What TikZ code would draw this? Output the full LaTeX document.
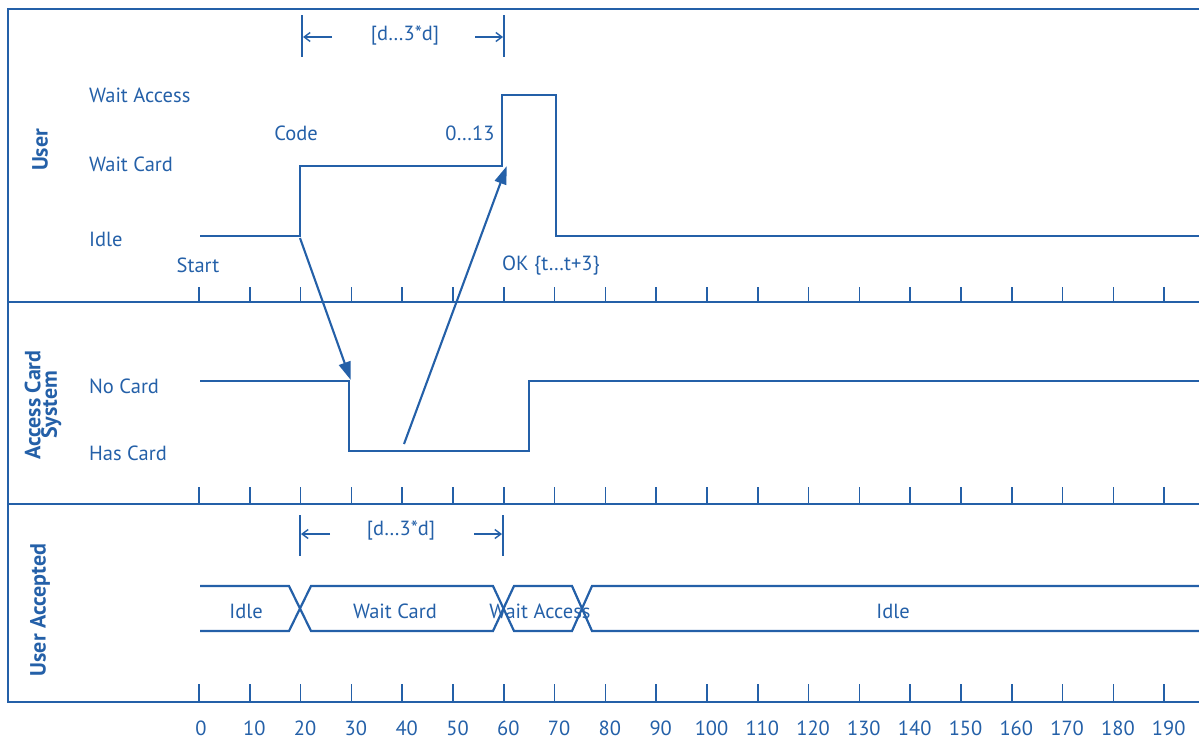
\documentclass[tikz,border=0pt]{standalone}
\usepackage{fontspec}
\setmainfont{PT Sans}
\usetikzlibrary{arrows.meta}
\definecolor{ub}{RGB}{36,96,168}
\begin{document}
\begin{tikzpicture}[x=1pt,y=-1pt,
  frame/.style={draw=ub, line width=1.9pt},
  sig/.style={draw=ub, line width=2.2pt, line join=miter},
  tickmark/.style={draw=ub, line width=1.6pt},
  lbl/.style={text=ub, font=\fontsize{20.5}{23}\selectfont, inner sep=0pt},
  numlbl/.style={lbl, text height=14pt, text depth=0pt},
  ttl/.style={text=ub, font=\bfseries\fontsize{22}{16.5}\selectfont, rotate=90, align=center, inner sep=0pt},
  msg/.style={draw=ub, line width=2.1pt, -{Triangle[length=18pt,width=12pt]}, shorten >=-2pt},
  dimarrow/.style={draw=ub, line width=1.4pt, -{Straight Barb[length=6pt,width=9pt]}},
  dimbar/.style={draw=ub, line width=1.5pt}]
\useasboundingbox (0,0) rectangle (1199,739);
% frame
\draw[frame] (1199,9) -- (8,9) -- (8,702) -- (1199,702);
\draw[frame] (8,302) -- (1199,302);
\draw[frame] (8,504) -- (1199,504);
% ticks
\foreach \t in {0,...,19} {
  \draw[tickmark] ({199+50.8*\t},287) -- ({199+50.8*\t},302);
  \draw[tickmark] ({199+50.8*\t},487) -- ({199+50.8*\t},504);
  \draw[tickmark] ({199+50.8*\t},684) -- ({199+50.8*\t},702);
}
\node[numlbl] (tl0) at (201,728) {0};
\foreach \t in {1,...,19} {
  \pgfmathtruncatemacro{\v}{10*\t}
  \node[numlbl] (tl\t) at ({203.5+50.8*\t},728) {\v};
}
% lane titles
\node[ttl] (tUser) at (40,150) {User};
\node[ttl] (tACS) at (43,405) {Access Card\\System};
\node[ttl] (tUA) at (40,610) {User Accepted};
% state labels
\node[lbl, anchor=west] (sWA) at (89,95) {Wait Access};
\node[lbl, anchor=west] (sWC) at (89,164) {Wait Card};
\node[lbl, anchor=west] (sI) at (89,239) {Idle};
\node[lbl, anchor=west] (sNC) at (89,386) {No Card};
\node[lbl, anchor=west] (sHC) at (89,453) {Has Card};
% other labels
\node[lbl] (lStart) at (198,265) {Start};
\node[lbl] (lCode) at (296,133) {Code};
\node[lbl] (l013) at (470,133) {0…13};
\node[lbl, anchor=west] (lOK) at (502,266) {OK \{t…t+3\}};
% waveforms
\draw[sig] (200,236) -- (300,236) -- (300,166) -- (502,166) -- (502,95) -- (556,95) -- (556,236) -- (1199,236);
\draw[sig] (200,381) -- (349,381) -- (349,451) -- (529,451) -- (529,381) -- (1199,381);
% messages
\coordinate (m1s) at (300,238);
\coordinate (m1e) at (350,378);
\coordinate (m2s) at (404,444);
\coordinate (m2e) at (506,168);
\draw[msg] (m1s) -- (m1e);
\draw[msg] (m2s) -- (m2e);
% duration constraint top
\draw[dimbar] (302,15) -- (302,57);
\draw[dimbar] (504,15) -- (504,57);
\node[lbl] (d1) at (405,36) {[d…3*d]};
\coordinate (d1a) at (332,37);
\coordinate (d1b) at (303,37);
\coordinate (d1c) at (475,37);
\coordinate (d1d) at (503,37);
\draw[dimarrow] (d1a) -- (d1b);
\draw[dimarrow] (d1c) -- (d1d);
% duration constraint bottom
\draw[dimbar] (300,515) -- (300,556);
\draw[dimbar] (503,515) -- (503,556);
\node[lbl] (d2) at (401,531) {[d…3*d]};
\coordinate (d2a) at (330,534);
\coordinate (d2b) at (301,534);
\coordinate (d2c) at (474,534);
\coordinate (d2d) at (502,534);
\draw[dimarrow] (d2a) -- (d2b);
\draw[dimarrow] (d2c) -- (d2d);
% value timeline
\draw[sig] (200,586) -- (289,586) -- (311,631) -- (493,631) -- (514,586) -- (572,586) -- (592,631) -- (1199,631);
\draw[sig] (200,631) -- (289,631) -- (311,586) -- (493,586) -- (514,631) -- (572,631) -- (592,586) -- (1199,586);
\node[lbl] (v1) at (246,611) {Idle};
\node[lbl] (v2) at (395,611) {Wait Card};
\node[lbl] (v3) at (540,611) {Wait Access};
\node[lbl] (v4) at (893,611) {Idle};
\end{tikzpicture}
\end{document}
